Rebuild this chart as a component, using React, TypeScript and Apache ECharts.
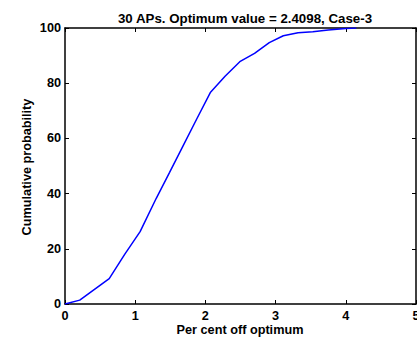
import React, { useEffect, useRef } from "react";
import * as echarts from "echarts";

const xValues = [0, 0.21, 0.63, 0.85, 1.07, 1.3, 1.49, 1.68, 1.88, 2.07, 2.28, 2.49, 2.7, 2.91, 3.11, 3.32, 3.53, 3.75, 4.0, 4.15];
const yValues = [0, 1.4, 9.2, 18, 26.2, 38.3, 47.7, 57.2, 67.2, 76.6, 82.5, 87.8, 90.8, 94.7, 97.2, 98.3, 98.6, 99.3, 99.8, 100];
const titleText = "30 APs. Optimum value = 2.4098, Case-3";
const xName = "Per cent off optimum";
const yName = "Cumulative probability";

const font = "Liberation Sans, Arial, sans-serif";

export default function App() {
  const ref = useRef<HTMLDivElement>(null);
  useEffect(() => {
    if (!ref.current) return;
    const chart = echarts.init(ref.current, null, { renderer: "svg" });
    const axisLine = { show: true, onZero: false, lineStyle: { color: "#000", width: 1.5 } };
    const tick = { show: true, inside: true, length: 4, lineStyle: { color: "#000", width: 1 } };
    const nameStyle = { fontFamily: font, fontWeight: "bold", fontSize: 12.7, fill: "#000", textAlign: "center", textVerticalAlign: "middle" };
    chart.setOption({
      animation: false,
      backgroundColor: "#fff",
      title: {
        text: titleText,
        left: 240,
        textAlign: "center",
        top: 7,
        textStyle: { fontFamily: font, fontWeight: "bold", fontSize: 13.3, color: "#000" },
      },
      grid: { left: 65, right: 1, top: 28, bottom: 33, outerBoundsMode: "none", containLabel: false },
      graphic: [
        { type: "text", x: 240, y: 330, style: { ...nameStyle, text: xName } },
        { type: "text", x: 27, y: 167, rotation: Math.PI / 2, style: { ...nameStyle, text: yName } },
      ],
      xAxis: [
        {
          type: "value",
          min: 0,
          max: 5,
          interval: 1,
          position: "bottom",
          axisLine,
          axisTick: tick,
          splitLine: { show: false },
          axisLabel: { fontFamily: font, fontWeight: "bold", fontSize: 12.7, color: "#000", margin: 5 },
        },
        {
          type: "value",
          min: 0,
          max: 5,
          interval: 1,
          position: "top",
          axisLine,
          axisTick: tick,
          splitLine: { show: false },
          axisLabel: { show: false },
        },
      ],
      yAxis: [
        {
          type: "value",
          min: 0,
          max: 100,
          interval: 20,
          position: "left",
          axisLine,
          axisTick: tick,
          splitLine: { show: false },
          axisLabel: { fontFamily: font, fontWeight: "bold", fontSize: 12.7, color: "#000", margin: 4 },
        },
        {
          type: "value",
          min: 0,
          max: 100,
          interval: 20,
          position: "right",
          axisLine,
          axisTick: tick,
          splitLine: { show: false },
          axisLabel: { show: false },
        },
      ],
      series: [
        {
          type: "line",
          data: xValues.map((x, i) => [x, yValues[i]]),
          showSymbol: false,
          lineStyle: { color: "#0000ff", width: 1.5 },
          xAxisIndex: 0,
          yAxisIndex: 0,
        },
      ],
    });
    return () => chart.dispose();
  }, []);
  return <div ref={ref} style={{ width: 417, height: 337, position: "absolute", left: 0, top: 0 }} />;
}
